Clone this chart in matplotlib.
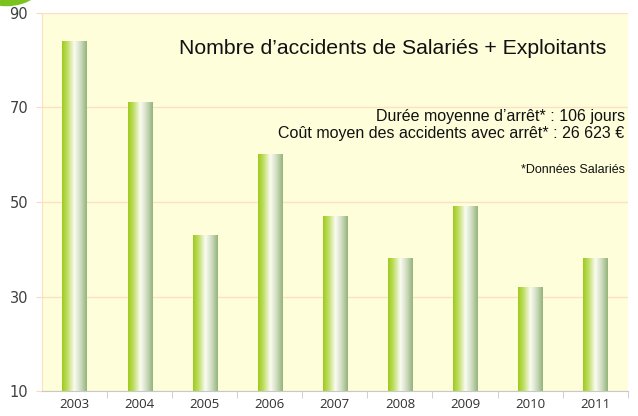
import matplotlib
matplotlib.use("Agg")
import matplotlib.pyplot as plt
import numpy as np
from matplotlib.patches import Ellipse
from matplotlib.colors import LinearSegmentedColormap

# data
years = ["2003", "2004", "2005", "2006", "2007", "2008", "2009", "2010", "2011"]
accidents = [84, 71, 43, 60, 47, 38, 49, 32, 38]
y_ticks = [10, 30, 50, 70, 90]

title = "Nombre d\u2019accidents de Salariés + Exploitants"
info_lines = [
    "Durée moyenne d\u2019arrêt* : 106 jours",
    "Coût moyen des accidents avec arrêt* : 26 623 €",
]
footnote = "*Données Salariés"

plt.rcParams["font.family"] = ["Liberation Sans", "DejaVu Sans"]

fig = plt.figure(figsize=(6.38, 4.16), dpi=100)
fig.patch.set_facecolor("white")
ax = fig.add_axes([0.0658, 0.060, 0.918, 0.909])
ax.set_facecolor("#fefedb")

x = np.arange(len(years))
bars = ax.bar(x, [v - 10 for v in accidents], bottom=10, width=0.37,
              color="none", edgecolor="none", zorder=3)

# horizontal gradient for each bar: yellow-green -> white -> grey-green
grad = LinearSegmentedColormap.from_list(
    "bar", [(0.0, "#9ccb1c"), (0.2, "#bcdc5c"), (0.5, "#fbfcf4"),
            (0.75, "#cfdcbf"), (1.0, "#93b47c")])
row = np.linspace(0, 1, 128).reshape(1, -1)
for b in bars:
    x0, y0 = b.get_x(), b.get_y()
    ax.imshow(row, cmap=grad, aspect="auto", zorder=3,
              extent=(x0, x0 + b.get_width(), y0, y0 + b.get_height()))

ax.set_xlim(-0.5, len(years) - 0.5)
ax.set_ylim(10, 90)
ax.set_yticks(y_ticks)
ax.set_yticklabels([str(t) for t in y_ticks], fontsize=10.5, color="#404040",
                   family=["DejaVu Sans"])
ax.set_xticks(x)
ax.set_xticklabels(years, fontsize=9.5, color="#303030", family=["Open Sans"])
ax.tick_params(axis="x", length=0, pad=5)
ax.set_xticks(np.arange(len(years)) + 0.5, minor=True)
ax.tick_params(axis="x", which="minor", length=5, color="#c8c8c8", direction="out")
ax.tick_params(axis="y", length=4, color="#fcd9b8", pad=6)

ax.grid(axis="y", color="#fde0c4", linewidth=1, zorder=1)
ax.set_axisbelow(True)
for side in ("top", "right"):
    ax.spines[side].set_visible(False)
ax.spines["left"].set_color("#fde0c4")
ax.spines["bottom"].set_color("#c8c8c8")

ax.text(0.964, 0.905, title, transform=ax.transAxes, ha="right", va="center",
        fontsize=15.3, color="#111111", zorder=5)
ax.text(0.995, 0.727, info_lines[0], transform=ax.transAxes, ha="right",
        va="center", fontsize=11.5, color="#111111", zorder=5)
ax.text(0.995, 0.682, info_lines[1], transform=ax.transAxes, ha="right",
        va="center", fontsize=11.5, color="#111111", zorder=5)
ax.text(0.995, 0.585, footnote, transform=ax.transAxes, ha="right",
        va="center", fontsize=9, color="#111111", zorder=5)

# green swoosh in the top-left corner
fig.patches.append(Ellipse((0.01, 1.06), 0.13, 0.15, transform=fig.transFigure,
                           facecolor="#7cc21e", edgecolor="none"))

fig.savefig("out.png", dpi=100)
